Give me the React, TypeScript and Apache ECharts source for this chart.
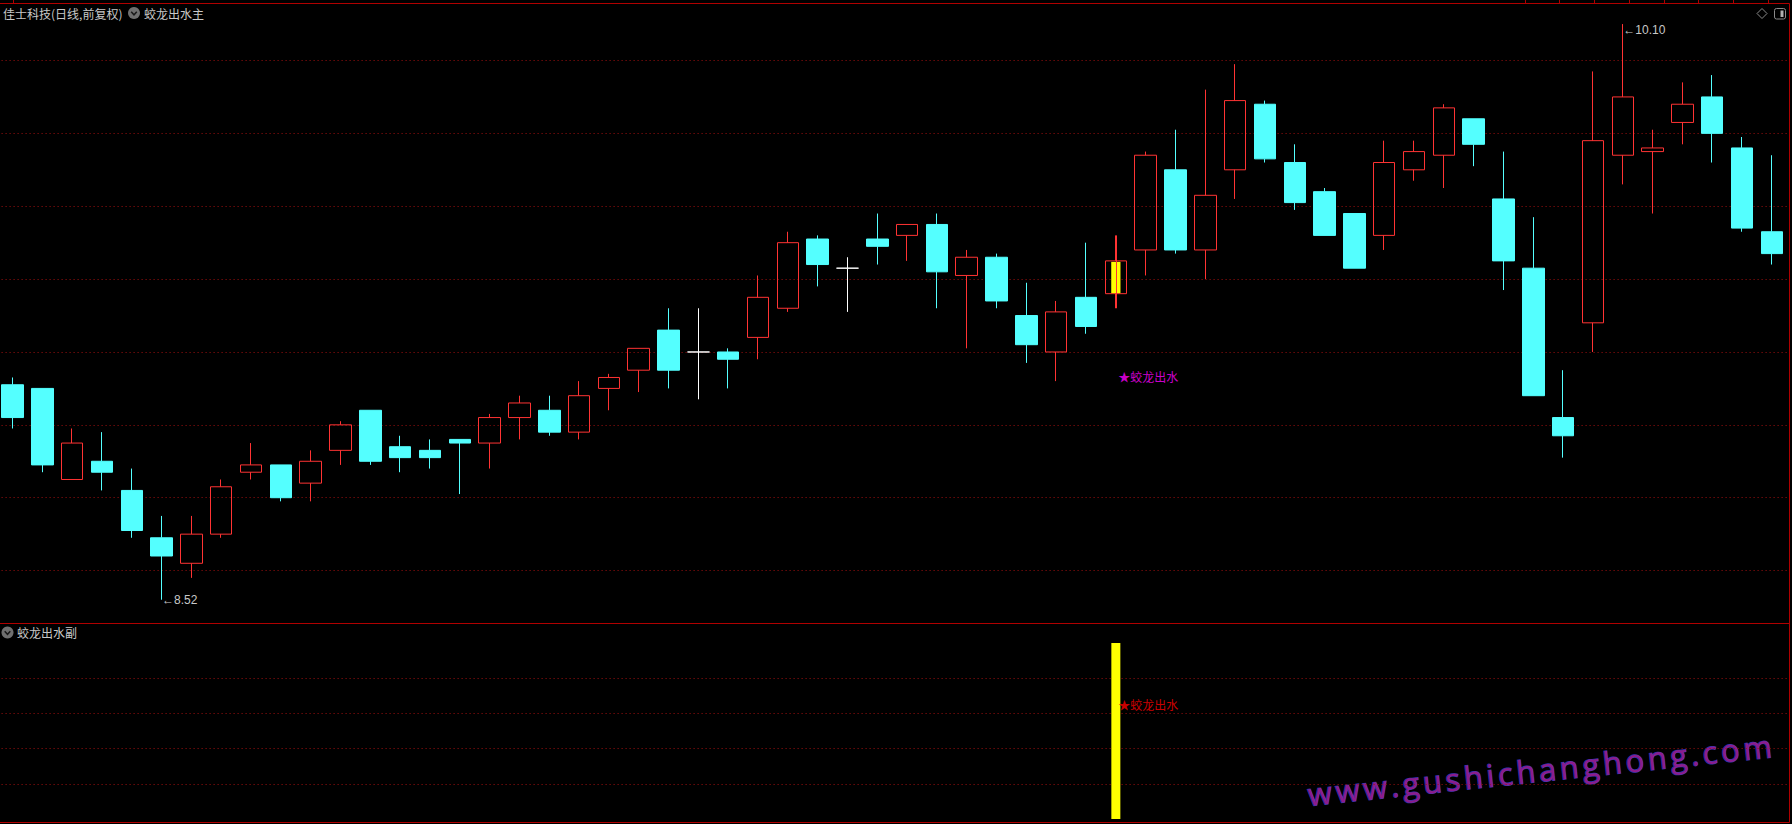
import React, { useEffect, useRef } from "react";
import * as echarts from "echarts";

// ---------- texts ----------
const stockTitle = "佳士科技(日线,前复权)";
const mainIndicatorName = "蛟龙出水主";
const subIndicatorName = "蛟龙出水副";
const signalText = "★蛟龙出水";
const watermarkText = "www.gushichanghong.com";

// ---------- data ----------
const days = Array.from({ length: 60 }, (_, i) => `K${String(i + 1).padStart(2, "0")}`);

const opens = [
  9.11, 9.10, 8.85, 8.90, 8.82, 8.69, 8.62, 8.70, 8.87, 8.89,
  8.84, 8.93, 9.04, 8.94, 8.93, 8.96, 8.95, 9.02, 9.04, 8.98,
  9.10, 9.15, 9.26, 9.20, 9.20, 9.24, 9.32, 9.51, 9.43, 9.51,
  9.52, 9.55, 9.41, 9.46, 9.30, 9.20, 9.35, 9.36, 9.48, 9.70,
  9.48, 9.70, 9.88, 9.72, 9.64, 9.58, 9.52, 9.70, 9.74, 9.84,
  9.62, 9.43, 9.02, 9.28, 9.74, 9.75, 9.83, 9.90, 9.76, 9.53,
];
const closes = [
  9.02, 8.89, 8.95, 8.87, 8.71, 8.64, 8.70, 8.83, 8.89, 8.80,
  8.90, 9.00, 8.90, 8.91, 8.91, 8.95, 9.02, 9.06, 8.98, 9.08,
  9.13, 9.21, 9.15, 9.20, 9.18, 9.35, 9.50, 9.44, 9.43, 9.49,
  9.55, 9.42, 9.46, 9.34, 9.22, 9.31, 9.27, 9.45, 9.74, 9.48,
  9.63, 9.89, 9.73, 9.61, 9.52, 9.43, 9.72, 9.75, 9.87, 9.77,
  9.45, 9.08, 8.97, 9.78, 9.90, 9.76, 9.88, 9.80, 9.54, 9.47,
];
const lows = [
  8.99, 8.87, 8.85, 8.82, 8.69, 8.52, 8.58, 8.69, 8.85, 8.79,
  8.79, 8.89, 8.89, 8.87, 8.88, 8.81, 8.88, 8.96, 8.97, 8.96,
  9.04, 9.09, 9.10, 9.07, 9.10, 9.18, 9.31, 9.38, 9.31, 9.44,
  9.45, 9.32, 9.21, 9.32, 9.17, 9.12, 9.25, 9.32, 9.41, 9.47,
  9.40, 9.62, 9.72, 9.59, 9.52, 9.43, 9.48, 9.67, 9.65, 9.71,
  9.37, 9.08, 8.91, 9.20, 9.66, 9.58, 9.77, 9.72, 9.53, 9.44,
];
const highs = [
  9.13, 9.10, 8.99, 8.98, 8.88, 8.75, 8.75, 8.85, 8.95, 8.89,
  8.93, 9.01, 9.04, 8.97, 8.96, 8.96, 9.03, 9.08, 9.08, 9.12,
  9.14, 9.21, 9.32, 9.32, 9.21, 9.41, 9.53, 9.52, 9.46, 9.58,
  9.55, 9.58, 9.48, 9.47, 9.39, 9.34, 9.50, 9.52, 9.75, 9.81,
  9.92, 9.99, 9.89, 9.77, 9.65, 9.58, 9.78, 9.78, 9.88, 9.84,
  9.75, 9.57, 9.15, 9.97, 10.10, 9.81, 9.94, 9.96, 9.79, 9.74,
];

const signalDays = [37];
const signalMainTextValues = [9.13];
const signalSubTextValues = [0.65];
const signalSubBarValues = [1];

const mainGridLevels = [8.6, 8.8, 9.0, 9.2, 9.4, 9.6, 9.8, 10.0];
const subGridLevels = [0.2, 0.4, 0.6, 0.8];

// ---------- styles ----------
const UP = "#ff3333";
const DOWN = "#54ffff";
const FRAME = "#b00000";
const GRIDDOT = "#a01010";
const TXT = "#c8c8c8";
const CJK = '"Noto Sans CJK SC", sans-serif';

export default function App() {
  const ref = useRef<HTMLDivElement>(null);

  useEffect(() => {
    const el = ref.current;
    if (!el) return;
    const chart = echarts.init(el, null, { renderer: "svg" });

    const candleData = days.map((_, i) => {
      const item: any = { value: [opens[i], closes[i], lows[i], highs[i]] };
      if (opens[i] === closes[i]) {
        item.itemStyle = { color: "#ffffff", color0: "#ffffff", borderColor: "#ffffff", borderColor0: "#ffffff" };
      }
      return item;
    });

    const stickData = signalDays.map((d) => [d, opens[d], closes[d], highs[d], lows[d]]);
    const subBars = days.map((_, i) => {
      const k = signalDays.indexOf(i);
      return k >= 0 ? signalSubBarValues[k] : "-";
    });

    // watermark, per-character with tracking
    const wmSize = 31;
    const wmFamily = '"Open Sans", sans-serif';
    const cv = document.createElement("canvas").getContext("2d")!;
    cv.font = `${wmSize}px ${wmFamily}`;
    const wmChildren: any[] = [];
    let cx = 0;
    for (const ch of watermarkText) {
      wmChildren.push({
        type: "text",
        x: cx,
        y: -11,
        style: {
          text: ch,
          fontSize: wmSize,
          fontFamily: wmFamily,
          fill: "#8c1c8c",
          stroke: "#3c34b0",
          lineWidth: 1.3,
          verticalAlign: "middle",
          align: "left",
        },
      });
      cx += cv.measureText(ch).width + 3.7;
    }

    const topStubs = [13, 1525, 1559, 1594, 1629, 1664, 1698, 1733, 1768].map((x) => ({
      type: "line",
      shape: { x1: x + 0.5, y1: 0, x2: x + 0.5, y2: 3 },
      style: { stroke: FRAME, lineWidth: 1 },
      silent: true,
    }));

    const markLineBase = {
      silent: true,
      symbol: ["none", "none"],
      label: { show: false },
      emphasis: { disabled: true },
      lineStyle: { type: [1, 3], color: GRIDDOT, width: 1 },
      z: 1,
    };

    const option: any = {
      animation: false,
      backgroundColor: "#000000",
      grid: [
        { left: -2.4, right: 5.2, top: 3.3, height: 620, outerBoundsMode: "none", containLabel: false },
        { left: -2.4, right: 5.2, top: 623.3, height: 199, outerBoundsMode: "none", containLabel: false },
      ],
      xAxis: [
        { type: "category", data: days, gridIndex: 0, show: false, boundaryGap: true },
        { type: "category", data: days, gridIndex: 1, show: false, boundaryGap: true },
      ],
      yAxis: [
        { type: "value", gridIndex: 0, min: 8.4553, max: 10.157, show: false, splitLine: { show: false } },
        { type: "value", gridIndex: 1, min: -0.01875, max: 1.1119, show: false, splitLine: { show: false } },
      ],
      series: [
        {
          name: "K线",
          type: "candlestick",
          xAxisIndex: 0,
          yAxisIndex: 0,
          barWidth: 22,
          z: 10,
          data: candleData,
          itemStyle: {
            color: "rgba(0,0,0,0)",
            color0: DOWN,
            borderColor: UP,
            borderColor0: DOWN,
            borderColorDoji: "#ffffff",
            borderWidth: 1,
          },
          emphasis: { disabled: true },
          markLine: { ...markLineBase, data: mainGridLevels.map((v) => ({ yAxis: v })) },
          markPoint: {
            silent: true,
            symbol: "circle",
            symbolSize: 1,
            itemStyle: { color: "rgba(0,0,0,0)" },
            label: {
              show: true,
              position: "right",
              distance: 0,
              color: TXT,
              fontSize: 12,
              fontFamily: '"Liberation Sans", sans-serif',
              formatter: (p: any) => "←" + Number(p.value).toFixed(2),
            },
            data: [
              { type: "max", valueDim: "highest", label: { offset: [0, 6] } },
              { type: "min", valueDim: "lowest" },
            ],
          },
        },
        {
          name: "信号柱",
          type: "custom",
          xAxisIndex: 0,
          yAxisIndex: 0,
          z: 11,
          silent: true,
          encode: { x: 0, y: [1, 2] },
          data: stickData,
          renderItem: (params: any, api: any) => {
            const i = api.value(0);
            const o = api.value(1);
            const c = api.value(2);
            const h = api.value(3);
            const l = api.value(4);
            const top = api.coord([i, Math.max(o, c)]);
            const bot = api.coord([i, Math.min(o, c)]);
            const hi = api.coord([i, h]);
            const lo = api.coord([i, l]);
            const bw = api.size([1, 0])[0] * 0.31;
            return {
              type: "group",
              children: [
                {
                  type: "rect",
                  shape: { x: top[0] - bw / 2, y: top[1] + 1, width: bw, height: bot[1] - top[1] - 1.5 },
                  style: { fill: "#ffff00" },
                },
                {
                  type: "line",
                  shape: { x1: Math.round(top[0]) + 0.5, y1: hi[1], x2: Math.round(top[0]) + 0.5, y2: lo[1] },
                  style: { stroke: UP, lineWidth: 1 },
                },
              ],
            };
          },
        },
        {
          name: "主图信号",
          type: "scatter",
          xAxisIndex: 0,
          yAxisIndex: 0,
          z: 12,
          silent: true,
          symbolSize: 1,
          itemStyle: { color: "rgba(0,0,0,0)" },
          data: signalDays.map((d, k) => [d, signalMainTextValues[k]]),
          label: {
            show: true,
            position: "right",
            distance: 2,
            offset: [0, -1],
            formatter: signalText,
            color: "#ff00ff",
            fontSize: 12,
            fontFamily: CJK,
          },
        },
        {
          name: "副图柱",
          type: "bar",
          xAxisIndex: 1,
          yAxisIndex: 1,
          z: 10,
          barWidth: 9,
          silent: true,
          data: subBars,
          itemStyle: { color: "#ffff00" },
          markLine: { ...markLineBase, data: subGridLevels.map((v) => ({ yAxis: v })) },
        },
        {
          name: "副图信号",
          type: "scatter",
          xAxisIndex: 1,
          yAxisIndex: 1,
          z: 12,
          silent: true,
          symbolSize: 1,
          itemStyle: { color: "rgba(0,0,0,0)" },
          data: signalDays.map((d, k) => [d, signalSubTextValues[k]]),
          label: {
            show: true,
            position: "right",
            distance: 2,
            formatter: signalText,
            color: "#ff0000",
            fontSize: 12,
            fontFamily: CJK,
          },
        },
      ],
      graphic: [
        // frame
        { type: "line", silent: true, shape: { x1: 0, y1: 3.5, x2: 1789.5, y2: 3.5 }, style: { stroke: FRAME, lineWidth: 1 } },
        { type: "line", silent: true, shape: { x1: 0, y1: 623.5, x2: 1789.5, y2: 623.5 }, style: { stroke: FRAME, lineWidth: 1 } },
        { type: "line", silent: true, shape: { x1: 0, y1: 822.5, x2: 1789.5, y2: 822.5 }, style: { stroke: FRAME, lineWidth: 1 } },
        { type: "line", silent: true, shape: { x1: 1789.5, y1: 3.5, x2: 1789.5, y2: 822.5 }, style: { stroke: FRAME, lineWidth: 1 } },
        ...topStubs,
        // main title
        {
          type: "text",
          silent: true,
          x: 3,
          y: 13,
          style: { text: stockTitle, fill: TXT, fontSize: 12, fontFamily: CJK, verticalAlign: "middle" },
        },
        { type: "circle", silent: true, shape: { cx: 134, cy: 13, r: 6 }, style: { fill: "#707070" } },
        {
          type: "polyline",
          silent: true,
          shape: { points: [[131.2, 11.8], [134, 14.8], [136.8, 11.8]] },
          style: { stroke: "#1a1a1a", lineWidth: 1.5, fill: "none" },
        },
        {
          type: "text",
          silent: true,
          x: 144,
          y: 13,
          style: { text: mainIndicatorName, fill: TXT, fontSize: 12, fontFamily: CJK, verticalAlign: "middle" },
        },
        // sub title
        { type: "circle", silent: true, shape: { cx: 7.5, cy: 632.5, r: 6 }, style: { fill: "#707070" } },
        {
          type: "polyline",
          silent: true,
          shape: { points: [[4.7, 631.3], [7.5, 634.3], [10.3, 631.3]] },
          style: { stroke: "#1a1a1a", lineWidth: 1.5, fill: "none" },
        },
        {
          type: "text",
          silent: true,
          x: 17,
          y: 632.5,
          style: { text: subIndicatorName, fill: TXT, fontSize: 12, fontFamily: CJK, verticalAlign: "middle" },
        },
        // top-right icons
        {
          type: "polygon",
          silent: true,
          shape: { points: [[1762, 8.5], [1767, 13.5], [1762, 18.5], [1757, 13.5]] },
          style: { stroke: "#8a8a8a", fill: "none", lineWidth: 1 },
        },
        {
          type: "rect",
          silent: true,
          shape: { x: 1774.5, y: 8.5, width: 11, height: 10.5, r: 2 },
          style: { stroke: "#8a8a8a", fill: "none", lineWidth: 1 },
        },
        { type: "rect", silent: true, shape: { x: 1780.5, y: 10.5, width: 3, height: 6.5 }, style: { fill: "#b0b0b0" } },
        // watermark
        {
          type: "group",
          silent: true,
          x: 1309,
          y: 805,
          rotation: (6 * Math.PI) / 180,
          children: wmChildren,
        },
      ],
    };

    chart.setOption(option);
    return () => chart.dispose();
  }, []);

  return (
    <div
      ref={ref}
      style={{ position: "fixed", left: 0, top: 0, width: 1792, height: 824, background: "#000" }}
    />
  );
}
